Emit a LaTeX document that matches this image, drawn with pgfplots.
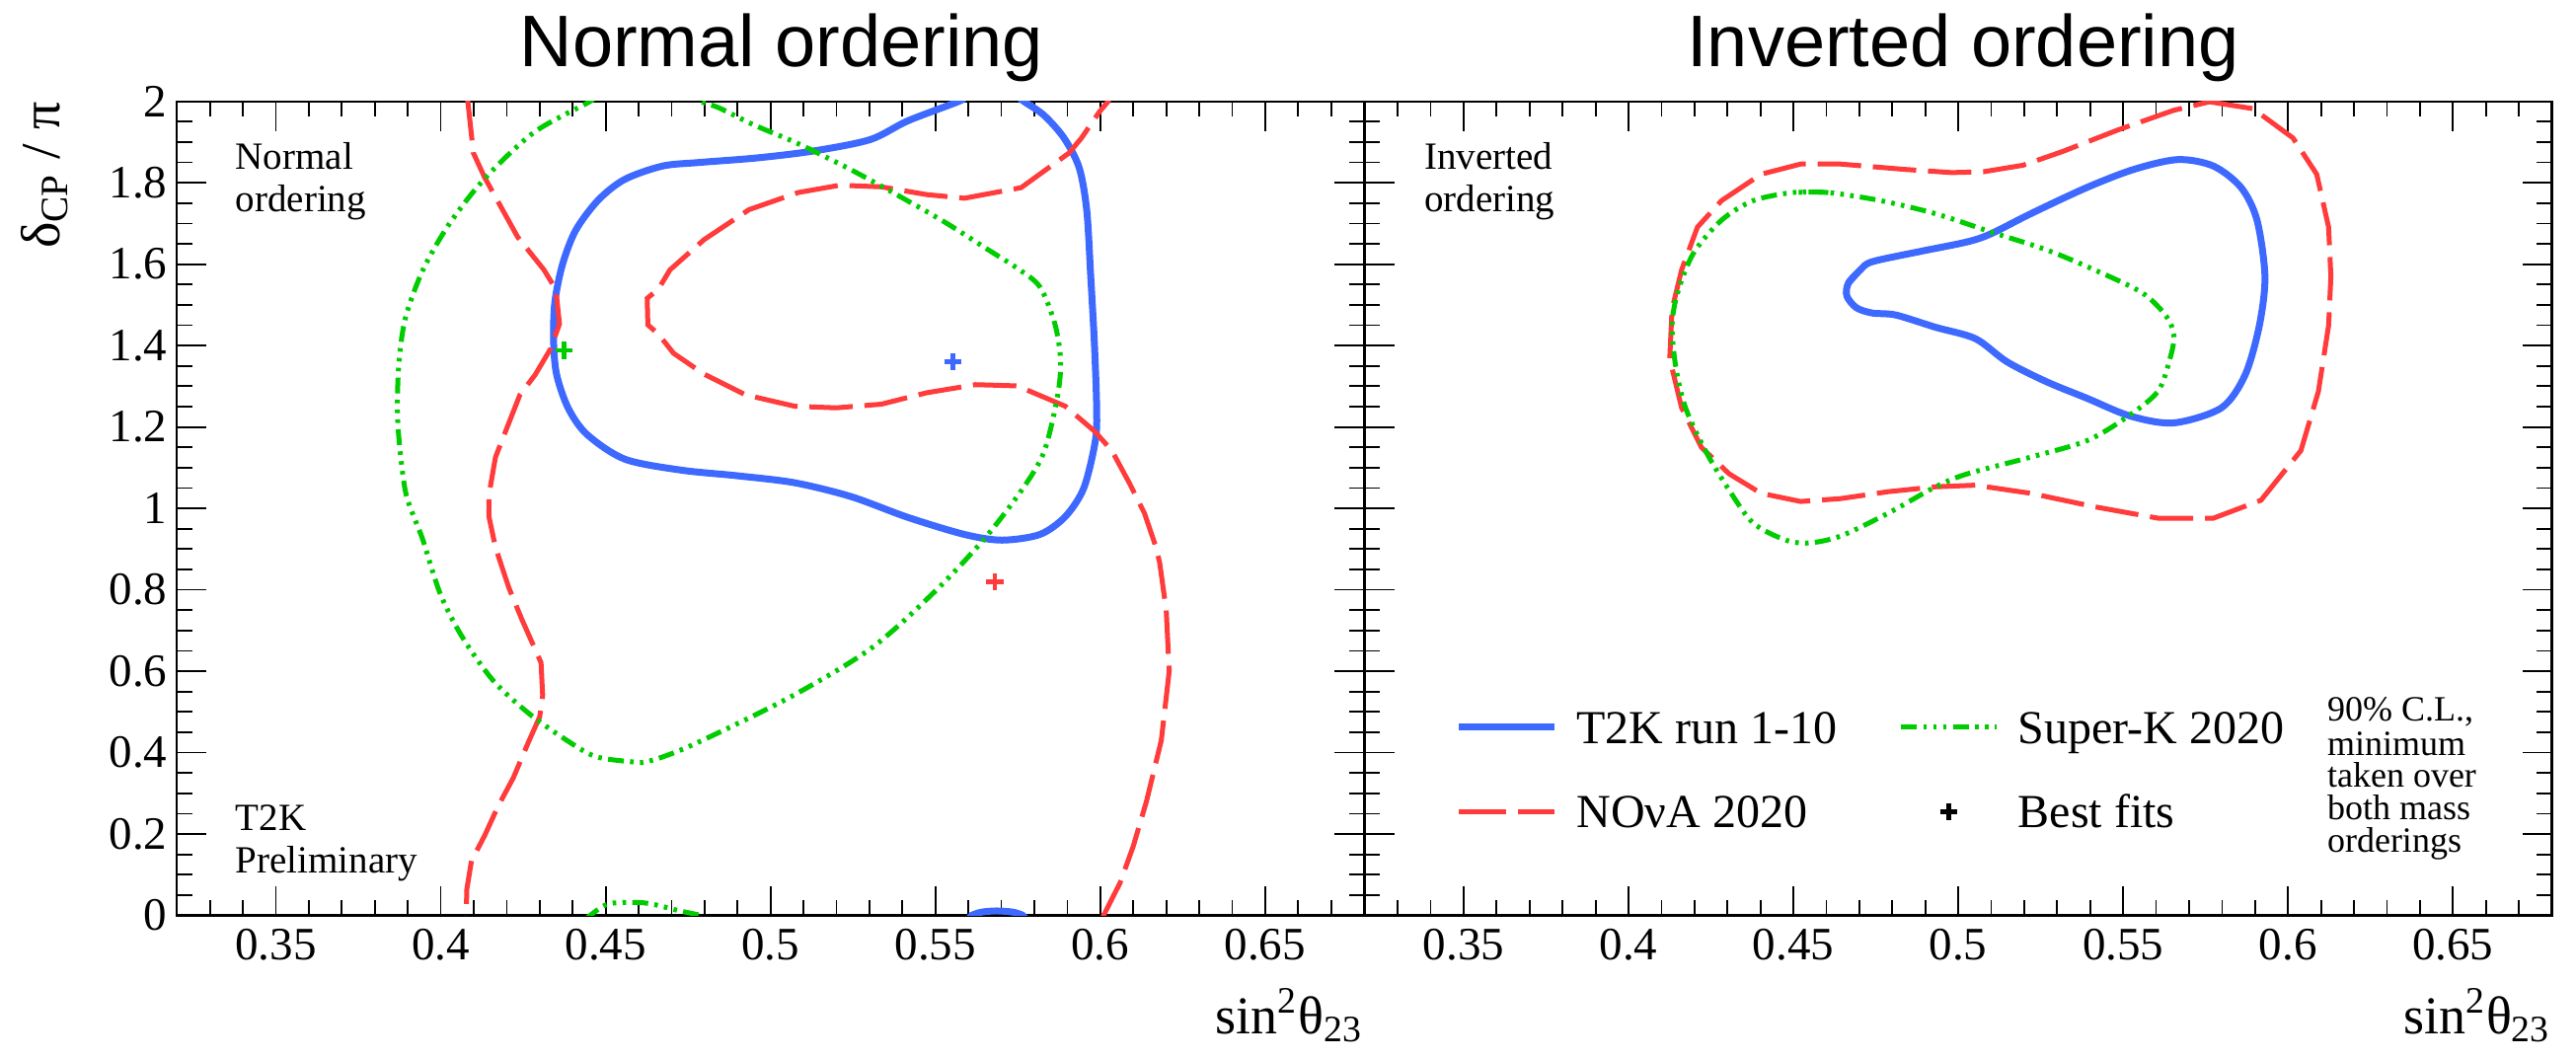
\documentclass[border=0pt]{standalone}
\usepackage{fontspec}
\setmainfont{Liberation Serif}
\newfontfamily\titlefont{Liberation Sans}
\usepackage{pgfplots}
\pgfplotsset{compat=1.18}

\definecolor{t2kblue}{RGB}{61,105,255}
\definecolor{novared}{RGB}{255,59,59}
\definecolor{skgreen}{RGB}{0,204,0}

\tikzset{
  t2k/.style={t2kblue, line width=1.75pt, solid},
  nova/.style={novared, line width=1.25pt, dash pattern=on 11pt off 3pt},
  superk/.style={skgreen, line width=1.25pt,
    dash pattern=on 4pt off 1.6pt on 0.9pt off 1.6pt on 0.9pt off 1.6pt on 0.9pt off 1.6pt},
  bestfit/.style={only marks, mark=+, mark size=2.2pt, mark options={line width=1.1pt, solid}},
}

\pgfplotsset{
  panel/.style={
    scale only axis, width=300.7pt, height=206.2pt,
    xmin=0.32, xmax=0.68, ymin=0, ymax=2,
    xtick={0.35,0.4,0.45,0.5,0.55,0.6,0.65},
    minor xtick={0.33,0.34,0.36,0.37,0.38,0.39,0.41,0.42,0.43,0.44,0.46,0.47,0.48,0.49,
                 0.51,0.52,0.53,0.54,0.56,0.57,0.58,0.59,0.61,0.62,0.63,0.64,0.66,0.67},
    ytick={0,0.2,0.4,0.6,0.8,1,1.2,1.4,1.6,1.8,2},
    minor ytick={0.05,0.1,0.15,0.25,0.3,0.35,0.45,0.5,0.55,0.65,0.7,0.75,0.85,0.9,0.95,
                 1.05,1.1,1.15,1.25,1.3,1.35,1.45,1.5,1.55,1.65,1.7,1.75,1.85,1.9,1.95},
    tick align=inside,
    major tick length=7.5pt, minor tick length=3.8pt,
    tick style={black, line width=0.45pt},
    axis line style={line width=0.55pt},
    ticklabel style={font=\fontsize{11.75}{14}\selectfont},
    xticklabel style={inner sep=0pt, yshift=-3.25pt},
    yticklabel style={inner sep=0pt, xshift=-2.3pt},
    /pgf/number format/assume math mode=true,
    /pgf/number format/fixed,
    xlabel={sin\textsuperscript{2}θ\textsubscript{23}},
    every axis x label/.style={at={(axis description cs:1,-0.1449)}, anchor=base east,
      inner sep=0pt, font=\fontsize{13.5}{15}\selectfont},
    every axis plot/.append style={forget plot},
  },
}

\begin{document}
\begin{tikzpicture}

% ---------------- Normal ordering ----------------
\begin{axis}[panel, at={(44.825pt,36.125pt)}, anchor=south west,
  ylabel={δ\textsubscript{CP} / π},
  every axis y label/.style={at={(axis description cs:-0.0991,1)}, rotate=90,
    anchor=base east, inner sep=0pt, font=\fontsize{14}{16}\selectfont},
]
% T2K run 1-10
\addplot[t2k, smooth, tension=0.5] coordinates {
 (0.5585,2.01) (0.5571,2.0) (0.5416,1.952) (0.5302,1.906) (0.5130,1.878) (0.4958,1.861)
 (0.4786,1.850) (0.4672,1.841) (0.4557,1.808) (0.4477,1.757) (0.4409,1.683) (0.4369,1.599)
 (0.4346,1.507) (0.4342,1.414) (0.4351,1.330) (0.4386,1.247) (0.4443,1.182) (0.4558,1.121)
 (0.4729,1.094) (0.4901,1.080) (0.5073,1.063) (0.5244,1.029) (0.5416,0.978) (0.5588,0.936)
 (0.5702,0.922) (0.5817,0.936) (0.5894,0.980) (0.5950,1.050) (0.5985,1.166) (0.5989,1.247)
 (0.5982,1.408) (0.5971,1.570) (0.5959,1.732) (0.5936,1.837) (0.5890,1.910) (0.5829,1.966)
 (0.5768,2.0) (0.5755,2.01)};
\addplot[t2k, smooth] coordinates {
 (0.5600,-0.01) (0.5610,0) (0.5640,0.008) (0.5685,0.011) (0.5735,0.008) (0.5765,0) (0.5775,-0.01)};
% NOvA 2020
\addplot[nova] coordinates {
 (0.4080,2.01) (0.4082,2.0) (0.4099,1.873) (0.4133,1.813) (0.4233,1.667) (0.4313,1.586)
 (0.4349,1.538) (0.4360,1.453) (0.4333,1.392) (0.4286,1.328) (0.4240,1.279) (0.4193,1.182)
 (0.4166,1.126) (0.4146,1.033) (0.4146,0.980) (0.4166,0.904) (0.4206,0.806) (0.4246,0.727)
 (0.4280,0.665) (0.4304,0.621) (0.4309,0.541) (0.4300,0.488) (0.4266,0.426) (0.4220,0.338)
 (0.4173,0.267) (0.4133,0.196) (0.4093,0.134) (0.4079,0.064) (0.4077,0.0) (0.4077,-0.01)};
\addplot[nova] coordinates {
 (0.6005,-0.01) (0.6010,0.0) (0.6060,0.080) (0.6100,0.170) (0.6140,0.280) (0.6185,0.430)
 (0.6209,0.600) (0.6200,0.750) (0.6180,0.867) (0.6168,0.907) (0.6134,0.988) (0.6089,1.061)
 (0.6035,1.142) (0.5982,1.190) (0.5894,1.251) (0.5748,1.301) (0.5622,1.304) (0.5473,1.284)
 (0.5336,1.256) (0.5199,1.247) (0.5073,1.251) (0.4924,1.279) (0.4798,1.330) (0.4706,1.381)
 (0.4660,1.428) (0.4628,1.451) (0.4626,1.516) (0.4660,1.539) (0.4695,1.586) (0.4798,1.660)
 (0.4935,1.734) (0.5084,1.776) (0.5210,1.794) (0.5336,1.790) (0.5473,1.771) (0.5588,1.762)
 (0.5760,1.788) (0.5905,1.873) (0.5943,1.910) (0.5997,1.974) (0.6024,2.0) (0.6028,2.01)};
% Super-K 2020
\addplot[superk, smooth, tension=0.5] coordinates {
 (0.4455,2.01) (0.4453,2.0) (0.4283,1.924) (0.4133,1.810) (0.4026,1.699) (0.3946,1.586)
 (0.3892,1.465) (0.3872,1.344) (0.3870,1.206) (0.3892,1.045) (0.3926,0.964) (0.3946,0.922)
 (0.3999,0.789) (0.4066,0.683) (0.4159,0.577) (0.4266,0.497) (0.4373,0.435) (0.4467,0.391)
 (0.4573,0.378) (0.4627,0.378) (0.4758,0.417) (0.5054,0.534) (0.5303,0.655) (0.5496,0.794)
 (0.5645,0.922) (0.5760,1.043) (0.5828,1.136) (0.5868,1.265) (0.5880,1.358) (0.5863,1.451)
 (0.5817,1.544) (0.5748,1.590) (0.5657,1.637) (0.5531,1.702) (0.5393,1.766) (0.5244,1.832)
 (0.5084,1.896) (0.4947,1.943) (0.4844,1.984) (0.4786,2.0) (0.4770,2.01)};
\addplot[superk, smooth] coordinates {
 (0.4440,-0.01) (0.4453,0) (0.4507,0.028) (0.4587,0.032) (0.4640,0.028) (0.4720,0.012)
 (0.4786,0) (0.4800,-0.01)};
% best fits
\addplot[bestfit, t2kblue] coordinates {(0.5553,1.360)};
\addplot[bestfit, novared] coordinates {(0.5681,0.820)};
\addplot[bestfit, skgreen] coordinates {(0.4374,1.388)};
\end{axis}

% ---------------- Inverted ordering ----------------
\begin{axis}[panel, at={(345.675pt,36.125pt)}, anchor=south west,
  yticklabels={},
  legend columns=2,
  legend cell align=left,
  legend style={draw=none, fill=none, inner sep=0pt, outer sep=0pt,
    at={(axis description cs:0.0759,0.2513)}, anchor=north west,
    font=\fontsize{12}{14}\selectfont,
    nodes={inner sep=0pt, text height=8.2pt, text depth=0pt, anchor=west},
    row sep=13.25pt,
    /tikz/every odd column/.append style={column sep=4.75pt},
    /tikz/every even column/.append style={column sep=15.5pt}},
]
% T2K run 1-10
\addplot[t2k, smooth, tension=0.5] coordinates {
 (0.4667,1.554) (0.4703,1.586) (0.4739,1.606) (0.4883,1.631) (0.5028,1.655) (0.5100,1.675)
 (0.5220,1.724) (0.5389,1.788) (0.5533,1.833) (0.5666,1.857) (0.5774,1.841) (0.5858,1.788)
 (0.5906,1.708) (0.5930,1.570) (0.5913,1.449) (0.5870,1.328) (0.5798,1.247) (0.5653,1.210)
 (0.5521,1.227) (0.5389,1.271) (0.5268,1.311) (0.5148,1.360) (0.5052,1.417) (0.4931,1.445)
 (0.4811,1.475) (0.4739,1.480) (0.4691,1.493) (0.4662,1.522) (0.4667,1.554) (0.4703,1.586)};
% NOvA 2020
\addplot[nova] coordinates {
 (0.5762,1.999) (0.5894,1.982) (0.6015,1.910) (0.6087,1.821) (0.6123,1.691) (0.6130,1.570)
 (0.6123,1.449) (0.6092,1.287) (0.6039,1.142) (0.5918,1.020) (0.5774,0.976) (0.5605,0.976)
 (0.5413,1.004) (0.5220,1.037) (0.5052,1.057) (0.4931,1.053) (0.4787,1.041) (0.4643,1.024)
 (0.4522,1.017) (0.4402,1.037) (0.4305,1.085) (0.4221,1.150) (0.4161,1.247) (0.4125,1.368)
 (0.4132,1.489) (0.4161,1.586) (0.4209,1.691) (0.4282,1.756) (0.4402,1.821) (0.4522,1.846)
 (0.4643,1.846) (0.4835,1.833) (0.4980,1.825) (0.5076,1.827) (0.5196,1.843) (0.5317,1.877)
 (0.5485,1.930) (0.5653,1.978) (0.5762,1.999)};
% Super-K 2020
\addplot[superk, smooth, tension=0.5] coordinates {
 (0.4606,1.776) (0.4498,1.776) (0.4378,1.756) (0.4282,1.708) (0.4197,1.627) (0.4149,1.530)
 (0.4132,1.449) (0.4144,1.344) (0.4173,1.247) (0.4233,1.142) (0.4305,1.045) (0.4378,0.964)
 (0.4474,0.923) (0.4546,0.915) (0.4643,0.932) (0.4787,0.988) (0.4931,1.053) (0.5028,1.085)
 (0.5220,1.126) (0.5389,1.166) (0.5509,1.223) (0.5605,1.287) (0.5642,1.368) (0.5654,1.425)
 (0.5630,1.473) (0.5557,1.530) (0.5413,1.586) (0.5268,1.635) (0.5100,1.679) (0.4931,1.724)
 (0.4765,1.756) (0.4606,1.776) (0.4498,1.776)};

% legend
\addlegendimage{legend image code/.code={\draw[t2kblue, line width=1.9pt] (0pt,0pt) -- (24.25pt,0pt);}}
\addlegendentry{T2K run 1-10}
\addlegendimage{legend image code/.code={\draw[superk, line width=1.3pt] (0pt,0pt) -- (24.25pt,0pt);}}
\addlegendentry{Super-K 2020}
\addlegendimage{legend image code/.code={\draw[novared, line width=1.35pt, dash pattern=on 12pt off 3pt] (0pt,0pt) -- (24.25pt,0pt);}}
\addlegendentry{NOνA 2020}
\addlegendimage{legend image code/.code={\draw[black, mark=+, mark size=2.2pt, mark options={line width=1.1pt}] plot coordinates {(12.125pt,0pt)};}}
\addlegendentry{Best fits}
\end{axis}

% titles and annotations
\node[anchor=base, inner sep=0pt, font=\titlefont\fontsize{18.5}{22}\selectfont] at (198pt,251pt) {Normal ordering};
\node[anchor=base, inner sep=0pt, font=\titlefont\fontsize{18.5}{22}\selectfont] at (497.25pt,251pt) {Inverted ordering};

\begin{scope}[every node/.style={anchor=base west, inner sep=0pt, font=\fontsize{9.75}{11}\selectfont}]
\node at (59.5pt,225pt) {Normal};
\node at (59.5pt,214.25pt) {ordering};
\node at (59.5pt,57.75pt) {T2K};
\node at (59.5pt,47pt) {Preliminary};
\node at (360.6pt,225pt) {Inverted};
\node at (360.6pt,214.25pt) {ordering};
\end{scope}

\begin{scope}[every node/.style={anchor=base west, inner sep=0pt, font=\fontsize{9}{10}\selectfont}]
\node at (589.3pt,85.5pt) {90\% C.L.,};
\node at (589.3pt,76.75pt) {minimum};
\node at (589.3pt,68.75pt) {taken over};
\node at (589.3pt,60.5pt) {both mass};
\node at (589.3pt,52.25pt) {orderings};
\end{scope}

\pgfresetboundingbox
\path[use as bounding box] (0,0) rectangle (652.5pt,268pt);
\end{tikzpicture}
\end{document}
